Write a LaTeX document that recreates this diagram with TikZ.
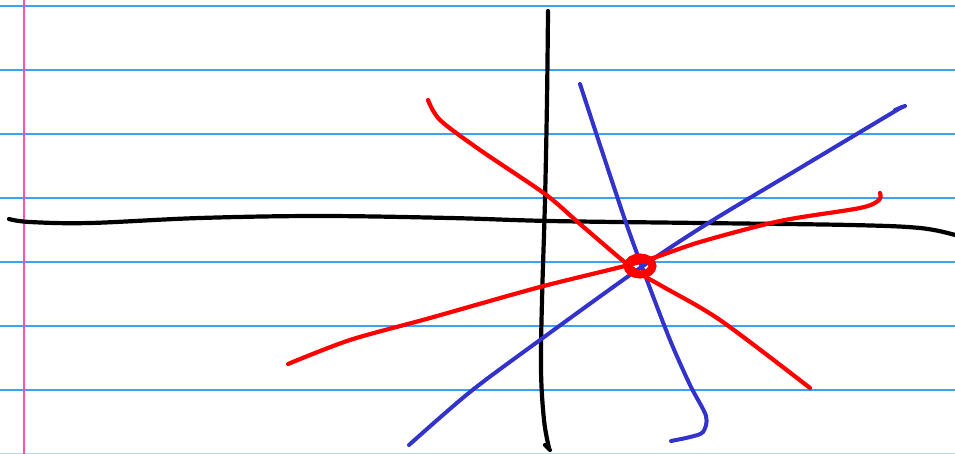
\documentclass[tikz,border=0pt]{standalone}
\begin{document}
\begin{tikzpicture}[x=1pt,y=-1pt,
  rule/.style={draw=ruleblue,line width=1.2pt},
  pen/.style={line width=4.2pt,line cap=round,line join=round},
  inkblack/.style={pen,draw=black},
  inkred/.style={pen,draw=inkr},
  inkblue/.style={pen,draw=inkb,line width=4pt}]
\definecolor{ruleblue}{RGB}{60,160,255}
\definecolor{margin}{RGB}{255,80,170}
\definecolor{inkr}{RGB}{255,0,0}
\definecolor{inkb}{RGB}{51,51,204}
\fill[white] (0,0) rectangle (955,454);
\useasboundingbox (0,0) rectangle (955,454);
% ruled paper
\foreach \y in {6,70,134,198,262,326,390} \draw[rule] (0,\y) -- (955,\y);
\draw[draw=ruleblue!40,line width=1pt] (0,453) -- (955,453);
\draw[draw=margin,line width=2pt] (24,0) -- (24,454);
% axes
\draw[inkblack] plot[smooth,tension=0.6] coordinates {(9,219) (30,222) (90,223) (200,218) (320,216) (450,218) (550,221) (700,223) (850,225) (920,228) (955,235)};
\draw[inkblack] plot[smooth,tension=0.6] coordinates {(548,11) (547,100) (545,200) (542,300) (541,370) (544,420) (549,448)};
\draw[inkblack] (545,445) -- (550,450);
% blue lines
\draw[inkblue] plot[smooth,tension=0.5] coordinates {(580,84) (600,145) (625,220) (645,275) (670,340) (690,385) (706,416) (703,432) (690,437) (671,441)};
\draw[inkblue] plot[smooth,tension=0.5] coordinates {(409,445) (470,392) (540,340) (640,268) (710,222) (800,168) (902,107)};
\draw[inkblue] (895,110) -- (905,106);
% red lines
\draw[inkred] plot[smooth,tension=0.5] coordinates {(428,100) (440,120) (480,150) (545,194) (580,224) (632,268) (660,285) (720,320) (810,388)};
\draw[inkred] plot[smooth,tension=0.5] coordinates {(288,364) (350,340) (430,318) (540,287) (640,262) (700,242) (780,221) (860,208) (879,200) (880,193)};
% red circled intersection
\draw[draw=inkr,line width=8pt] (640,266) ellipse[x radius=12.5,y radius=8.5];
\end{tikzpicture}
\end{document}
